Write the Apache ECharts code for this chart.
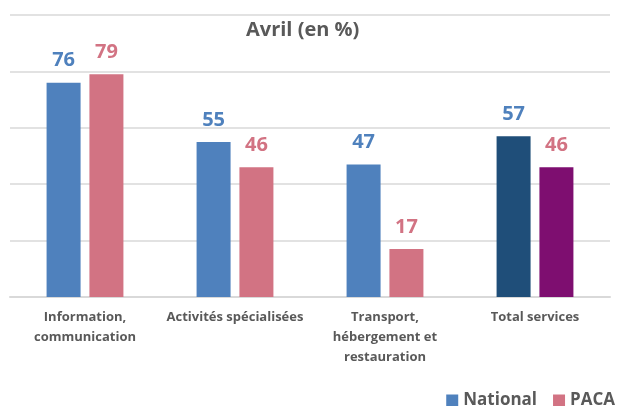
<!DOCTYPE html>
<html>
<head>
<meta charset="utf-8">
<script src="https://cdn.jsdelivr.net/npm/echarts@6/dist/echarts.min.js"></script>
<style>
  html, body { margin: 0; padding: 0; background: #fff; }
  #chart { width: 618px; height: 406px; }
</style>
</head>
<body>
<div id="chart"></div>
<script>
// données
var categories = ["Information,\ncommunication", "Activités spécialisées", "Transport,\nhébergement et\nrestauration", "Total services"];
var national = [76, 55, 47, 57];
var paca = [79, 46, 17, 46];

var FONT = "'Open Sans', sans-serif";
var GREY = "#595959";

// la barre "Total services" a ses propres couleurs
function buildData(values, lastColor) {
  return values.map(function (v, i) {
    if (i == values.length - 1) return { value: v, itemStyle: { color: lastColor } };
    return v;
  });
}

var chart = echarts.init(document.getElementById("chart"));
var option = {
  animation: false,
  title: {
    text: "Avril (en %)",
    left: 241,
    top: 15,
    textStyle: { fontFamily: FONT, fontWeight: "bold", fontSize: 20, color: GREY },
  },
  legend: {
    right: -2,
    top: 387,
    itemWidth: 12,
    itemHeight: 12,
    itemGap: 16,
    icon: "rect",
    textStyle: { fontFamily: FONT, fontWeight: "bold", fontSize: 17, color: GREY },
    data: ["National", "PACA"],
  },
  grid: { left: 10, right: 8, top: 15, bottom: 109 },
  xAxis: {
    type: "category",
    data: categories,
    axisTick: { show: false },
    axisLine: { lineStyle: { color: "#D9D9D9", width: 2 } },
    axisLabel: {
      interval: 0,
      margin: 10,
      fontFamily: FONT,
      fontWeight: "bold",
      fontSize: 13,
      lineHeight: 20,
      color: GREY,
    },
  },
  yAxis: {
    type: "value",
    min: 0,
    max: 100,
    interval: 20,
    axisLabel: { show: false },
    axisLine: { show: false },
    axisTick: { show: false },
    splitLine: { lineStyle: { color: "#D9D9D9", width: 1.5 } },
  },
  series: [
    {
      name: "National",
      type: "bar",
      barWidth: 34,
      barGap: "26%",
      itemStyle: { color: "#4F81BD" },
      data: buildData(national, "#1F4E79"),
      label: {
        show: true,
        position: "top",
        distance: 12,
        fontFamily: FONT,
        fontWeight: "bold",
        fontSize: 20,
        color: "#4F81BD",
      },
    },
    {
      name: "PACA",
      type: "bar",
      barWidth: 34,
      itemStyle: { color: "#D27383" },
      data: buildData(paca, "#7E0E70"),
      label: {
        show: true,
        position: "top",
        distance: 12,
        fontFamily: FONT,
        fontWeight: "bold",
        fontSize: 20,
        color: "#D27383",
      },
    },
  ],
};
chart.setOption(option);
</script>
</body>
</html>
